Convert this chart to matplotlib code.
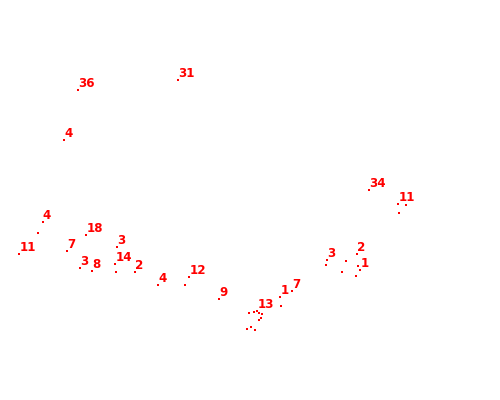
import matplotlib
matplotlib.use("Agg")
import matplotlib.pyplot as plt

# point positions (x to the right, y downwards) and their labels ("" = no label)
xs = [78.3, 178.3, 64.3, 42.7, 38.3, 19.3, 86.3, 67.3, 117.3, 80.3,
      92.3, 115.3, 116.3, 135.3, 158.3, 189.3, 185.3, 219.3,
      249.3, 254.3, 257.3, 258.7, 262.3, 261.3, 259.3, 251.3, 247.3, 255.3,
      280.3, 281.3, 292.3,
      327.3, 326.3, 346.3, 342.3, 357.3, 358.3, 360.3, 356.3,
      369.3, 398.3, 406.3, 399.3]
ys = [90.3, 80.3, 140.3, 222.3, 233.3, 254.3, 235.3, 251.3, 247.3, 268.3,
      271.3, 264.3, 272.3, 272.3, 285.3, 277.3, 285.3, 299.3,
      313.3, 312.3, 311.3, 313.3, 314.3, 318.3, 320.3, 327.3, 329.3, 330.3,
      297.0, 306.3, 291.3,
      260.3, 265.3, 261.3, 272.3, 254.3, 266.3, 270.3, 276.3,
      190.3, 204.3, 205.3, 213.3]
labels = ["36", "31", "4", "4", "", "11", "18", "7", "3", "3",
          "8", "14", "", "2", "4", "12", "", "9",
          "", "", "13", "", "", "", "", "", "", "",
          "1", "", "7",
          "3", "", "", "", "2", "", "1", "",
          "34", "11", "", ""]

fig = plt.figure(figsize=(5, 4), dpi=100)
ax = fig.add_axes([0, 0, 1, 1])
ax.scatter(xs, ys, s=0.8, marker="s", color="red", linewidths=0)
for x, y, lab in zip(xs, ys, labels):
    if lab:
        ax.annotate(lab, (x, y), xytext=(0, 3), textcoords="offset pixels",
                    color="red", fontsize=8.6, fontweight="bold",
                    ha="left", va="baseline")
ax.set_xlim(0, 500)
ax.set_ylim(400, 0)
ax.axis("off")
fig.savefig("out.png", dpi=100, facecolor="white")
